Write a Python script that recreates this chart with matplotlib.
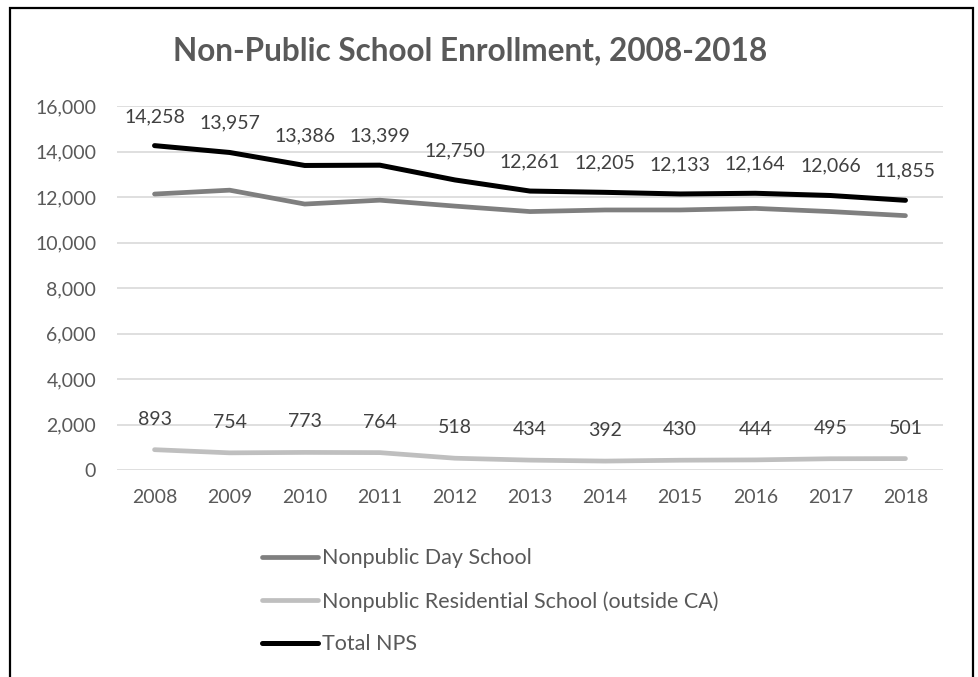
import numpy as np
import matplotlib
matplotlib.use("Agg")
import matplotlib.pyplot as plt
from matplotlib.patches import Rectangle
from matplotlib.ticker import FuncFormatter

years = ["2008", "2009", "2010", "2011", "2012", "2013", "2014", "2015", "2016", "2017", "2018"]
day_school = [12130, 12300, 11690, 11860, 11600, 11360, 11430, 11430, 11500, 11360, 11180]
residential = [893, 754, 773, 764, 518, 434, 392, 430, 444, 495, 501]
total_nps = [14258, 13957, 13386, 13399, 12750, 12261, 12205, 12133, 12164, 12066, 11855]

plt.rcParams['font.family'] = ['Lato', 'DejaVu Sans']

fig = plt.figure(figsize=(9.79, 6.77), dpi=100)
ax = fig.add_axes([117 / 979, 1 - 470 / 677, (943 - 117) / 979, (470 - 106) / 677])

x = np.arange(len(years))
l1, = ax.plot(x, day_school, color='#7f7f7f', lw=3.4, solid_capstyle='round', label='Nonpublic Day School')
l2, = ax.plot(x, residential, color='#bfbfbf', lw=3.4, solid_capstyle='round',
              label='Nonpublic Residential School (outside CA)')
l3, = ax.plot(x, total_nps, color='black', lw=3.6, solid_capstyle='round', label='Total NPS')

for xi, v in zip(x, total_nps):
    ax.annotate(f"{v:,}", (xi, v), xytext=(0, 21), textcoords='offset points',
                ha='center', va='center', fontsize=14, color='#404040')
for xi, v in zip(x, residential):
    ax.annotate(f"{v:,}", (xi, v), xytext=(0, 22), textcoords='offset points',
                ha='center', va='center', fontsize=14, color='#404040')

ax.set_xlim(-0.5, 10.5)
ax.set_ylim(0, 16000)
ax.set_yticks(np.arange(0, 16001, 2000))
ax.yaxis.set_major_formatter(FuncFormatter(lambda v, p: f"{int(v):,}"))
ax.set_xticks(x)
ax.set_xticklabels(years)
ax.tick_params(axis='both', length=0, labelsize=14, colors='#595959')
ax.tick_params(axis='x', pad=14)
ax.tick_params(axis='y', pad=15)
ax.grid(axis='y', color='#d9d9d9', lw=1.2)
ax.set_axisbelow(True)
for s in ax.spines.values():
    s.set_visible(False)

fig.text(470 / 979, 1 - 51 / 677, "Non-Public School Enrollment, 2008-2018", ha='center', va='center',
         fontsize=22.7, fontweight='bold', color='#595959')

fig.legend(handles=[l1, l2, l3], loc='upper left', bbox_to_anchor=(243 / 979, 1 - 529 / 677),
           frameon=False, fontsize=15.5, handlelength=2.6, handletextpad=0.15, labelspacing=1.05,
           labelcolor='#595959')

fig.patches.append(Rectangle((10 / 979, -0.02), 963 / 979, 1.02 - 8 / 677, transform=fig.transFigure,
                             fill=False, edgecolor='black', lw=1.6))

fig.savefig("out.png", dpi=100)
